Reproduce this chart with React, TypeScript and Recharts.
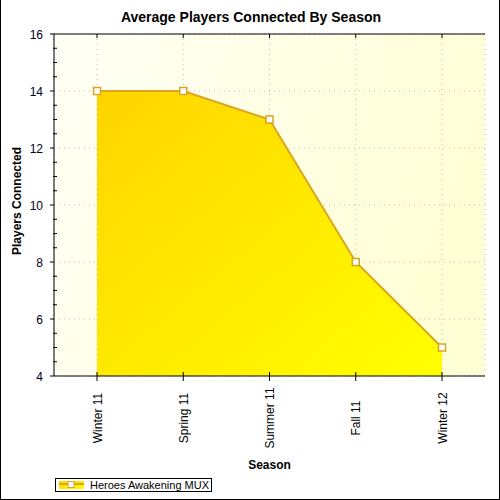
import React from 'react';
import { AreaChart, Area, XAxis, YAxis, CartesianGrid } from 'recharts';

const seasons = ['Winter 11', 'Spring 11', 'Summer 11', 'Fall 11', 'Winter 12'];
const players = [14, 14, 13, 8, 5];
const majorTicks = [4, 6, 8, 10, 12, 14, 16];
const allTicks = [4, 4.5, 5, 5.5, 6, 6.5, 7, 7.5, 8, 8.5, 9, 9.5, 10, 10.5, 11, 11.5, 12, 12.5, 13, 13.5, 14, 14.5, 15, 15.5, 16];

const chartTitle = 'Average Players Connected By Season';
const xTitle = 'Season';
const yTitle = 'Players Connected';
const seriesName = 'Heroes Awakening MUX';

const data = seasons.map((s, i) => ({ season: s, players: players[i] }));

const FONT = '"Liberation Sans", Arial, sans-serif';
const LINE = '#DAA520';

const LeftTick = (props: any) => {
  const { x, y, payload } = props;
  const ax = x + 11;
  const isMajor = majorTicks.includes(payload.value);
  return (
    <g>
      {isMajor ? (
        <line x1={ax - 4} x2={ax} y1={y} y2={y} stroke="#000" strokeWidth={1} />
      ) : (
        <line x1={ax - 1} x2={ax + 3} y1={y} y2={y} stroke="#000" strokeWidth={1} />
      )}
      {isMajor && (
        <text x={x} y={y} dy={4.5} textAnchor="end" fontSize={12} fontFamily={FONT} fill="#000020">
          {payload.value}
        </text>
      )}
    </g>
  );
};

const RightTick = (props: any) => {
  const { x, y } = props;
  return <line x1={x - 3} x2={x} y1={y} y2={y} stroke="#000" strokeWidth={1} />;
};

const BottomTick = (props: any) => {
  const { x, y, payload } = props;
  const ay = y - 12;
  return (
    <g>
      <line x1={x} x2={x} y1={ay - 4} y2={ay + 5} stroke="#000" strokeWidth={1} />
      <text
        x={x}
        y={ay + 42}
        transform={`rotate(-90, ${x}, ${ay + 42})`}
        textAnchor="middle"
        dy={4.5}
        fontSize={12}
        fontFamily={FONT}
        fill="#000"
      >
        {payload.value}
      </text>
    </g>
  );
};

const TopTick = (props: any) => {
  const { x, y } = props;
  return <line x1={x} x2={x} y1={y} y2={y + 4} stroke="#000" strokeWidth={1} />;
};

const SquareDot = (props: any) => {
  const { cx, cy } = props;
  if (cx == null || cy == null) return null;
  return <rect x={cx - 3.5} y={cy - 3.5} width={7} height={7} fill="#fff" stroke={LINE} strokeWidth={1.5} />;
};

export default function App() {
  return (
    <div
      style={{
        position: 'absolute',
        left: 0,
        top: 0,
        width: 500,
        height: 500,
        background: '#fff',
        boxSizing: 'border-box',
        borderLeft: '1px solid #000',
        borderRight: '1px solid #000',
        borderBottom: '1px solid #000',
        fontFamily: FONT,
      }}
    >
      <div
        style={{
          position: 'absolute',
          top: 8,
          left: 0,
          width: 500,
          textAlign: 'center',
          fontWeight: 'bold',
          fontSize: 14,
          lineHeight: '18px',
          color: '#000',
        }}
      >
        {chartTitle}
      </div>
      <div style={{ position: 'absolute', left: -1, top: 0 }}>
        <AreaChart width={500} height={500} data={data} margin={{ top: 33, right: 15, bottom: 30, left: 0 }}>
          <defs>
            <linearGradient id="bgGrad" x1="0" y1="0" x2="1" y2="0.3">
              <stop offset="0%" stopColor="#FFFFF6" />
              <stop offset="100%" stopColor="#FFFFD6" />
            </linearGradient>
            <linearGradient id="areaGrad" x1="0" y1="0" x2="1" y2="1">
              <stop offset="0%" stopColor="#FFD400" />
              <stop offset="100%" stopColor="#FFFF00" />
            </linearGradient>
          </defs>
          <CartesianGrid
            fill="url(#bgGrad)"
            stroke="#BDBDBD"
            strokeDasharray="1 4"
            horizontalValues={majorTicks}
          />
          <XAxis
            dataKey="season"
            padding={{ left: 43, right: 43 }}
            height={94}
            tickSize={0}
            tickMargin={12}
            tickLine={false}
            axisLine={{ stroke: '#000', strokeWidth: 1 }}
            tick={<BottomTick />}
            interval={0}
            label={{ value: xTitle, position: 'insideBottom', offset: 1, fontSize: 12, fontWeight: 'bold', fill: '#000', fontFamily: FONT }}
          />
          <XAxis
            xAxisId="top"
            dataKey="season"
            orientation="top"
            padding={{ left: 43, right: 43 }}
            height={1}
            tickSize={0}
            tickMargin={0}
            tickLine={false}
            axisLine={{ stroke: '#000', strokeWidth: 1 }}
            tick={<TopTick />}
            interval={0}
          />
          <YAxis
            domain={[4, 16]}
            ticks={allTicks}
            interval={0}
            width={54}
            tickSize={0}
            tickMargin={11}
            tickLine={false}
            axisLine={{ stroke: '#000', strokeWidth: 1 }}
            tick={<LeftTick />}
            label={{ value: yTitle, angle: -90, position: 'insideLeft', offset: 17, dy: 50, fontSize: 12, fontWeight: 'bold', fill: '#000', fontFamily: FONT }}
          />
          <YAxis
            yAxisId="right"
            orientation="right"
            domain={[4, 16]}
            ticks={allTicks}
            interval={0}
            width={0}
            tickSize={0}
            tickMargin={0}
            tickLine={false}
            axisLine={{ stroke: '#000', strokeWidth: 1 }}
            tick={<RightTick />}
          />
          <Area
            type="linear"
            dataKey="players"
            name={seriesName}
            stroke={LINE}
            strokeWidth={2}
            fill="url(#areaGrad)"
            fillOpacity={1}
            dot={<SquareDot />}
            activeDot={false}
            isAnimationActive={false}
          />
        </AreaChart>
      </div>
      <div
        style={{
          position: 'absolute',
          left: 54,
          top: 478,
          width: 157,
          height: 14,
          boxSizing: 'border-box',
          border: '1px solid #000',
          background: '#fff',
        }}
      >
        <svg width={30} height={12} style={{ position: 'absolute', left: 3, top: 0 }}>
          <defs>
            <linearGradient id="legGrad" x1="0" y1="0" x2="1" y2="1">
              <stop offset="0%" stopColor="#FFD400" />
              <stop offset="100%" stopColor="#FFFF00" />
            </linearGradient>
          </defs>
          <rect x={0} y={2} width={25} height={8} fill="url(#legGrad)" />
          <line x1={0} x2={25} y1={5} y2={5} stroke={LINE} strokeWidth={2} />
          <rect x={9} y={2.5} width={6} height={6} fill="#fff" stroke={LINE} strokeWidth={1} />
        </svg>
        <span
          style={{
            position: 'absolute',
            left: 34,
            top: -1,
            fontSize: 11,
            lineHeight: '14px',
            color: '#000',
            whiteSpace: 'nowrap',
          }}
        >
          {seriesName}
        </span>
      </div>
    </div>
  );
}
